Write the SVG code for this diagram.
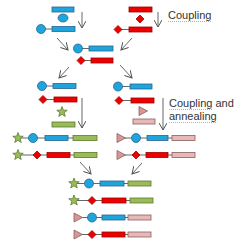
<svg xmlns="http://www.w3.org/2000/svg" width="250" height="249" viewBox="0 0 250 249">
<style>
.b{fill:#1ea6dc;stroke:#2a6490;stroke-width:0.8}
.r{fill:#ee0000;stroke:#a00000;stroke-width:0.8}
.g{fill:#9bbb59;stroke:#5b7a2e;stroke-width:0.8}
.p{fill:#e6b9b8;stroke:#8c5f5f;stroke-width:0.8}
.t{fill:#d99694;stroke:#8c5f5f;stroke-width:0.8}
.l{stroke:#555;stroke-width:0.9;fill:none}
.a{stroke:#555;stroke-width:0.9;fill:none;marker-end:url(#ah)}
.w{stroke:#e05050;stroke-width:0.6;fill:none;stroke-dasharray:1 1}
text{font-family:"Liberation Sans",Arial,sans-serif;font-size:11px;fill:#333}
</style>
<defs>
<marker id="ah" viewBox="0 0 8 8" refX="7" refY="4" markerWidth="8" markerHeight="8" markerUnits="userSpaceOnUse" orient="auto">
<path d="M0,0 L7,4 L0,8" fill="none" stroke="#555" stroke-width="1"/>
</marker>
<path id="star" d="M0,-5.5 L1.35,-1.86 L5.23,-1.7 L2.19,0.71 L3.23,4.45 L0,2.3 L-3.23,4.45 L-2.19,0.71 L-5.23,-1.7 L-1.35,-1.86 Z"/>
<path id="dia" d="M0,-4 L4,0 L0,4 L-4,0 Z"/>
<path id="tri" d="M-4,-4.5 L4.5,0 L-4,4.5 Z"/>
</defs>

<g id="connectors">
<line class="a" x1="82" y1="12" x2="82" y2="28"/>
<line class="a" x1="158" y1="12" x2="158" y2="27"/>
<line class="a" x1="57" y1="38" x2="68" y2="50"/>
<line class="a" x1="132" y1="38" x2="121" y2="50"/>
<line class="a" x1="69" y1="67" x2="59" y2="78"/>
<line class="a" x1="120" y1="65" x2="132" y2="78"/>
<line class="a" x1="82" y1="98" x2="82" y2="128"/>
<line class="a" x1="163" y1="98" x2="163" y2="130"/>
<line class="a" x1="80" y1="162" x2="91" y2="174"/>
<line class="a" x1="142" y1="163" x2="132" y2="174"/>
</g>

<g id="labels">
<text x="168" y="19">Coupling</text>
<path class="w" d="M168,21.5 h43"/>
<text x="169" y="107">Coupling and</text>
<path class="w" d="M169,109.5 h43"/>
<text x="169" y="120">annealing</text>
<path class="w" d="M169,122.5 h48"/>
</g>

<g id="top-left">
<rect class="b" x="52" y="7" width="22" height="5"/>
<ellipse class="b" cx="63" cy="18" rx="5" ry="4"/>
<line class="l" x1="45" y1="29" x2="52" y2="29"/>
<circle class="b" cx="41" cy="29" r="4.5"/>
<rect class="b" x="52" y="26.5" width="23" height="5"/>
</g>

<g id="top-right">
<rect class="r" x="129" y="7" width="23" height="5"/>
<use href="#dia" class="r" x="140" y="19"/>
<line class="l" x1="121" y1="29.5" x2="129" y2="29.5"/>
<use href="#dia" class="r" x="118" y="29.5"/>
<rect class="r" x="129" y="27" width="23" height="5"/>
</g>

<g id="middle">
<line class="l" x1="82" y1="48.5" x2="89" y2="48.5"/>
<circle class="b" cx="78" cy="48.5" r="4.5"/>
<rect class="b" x="89" y="46" width="24" height="5"/>
<line class="l" x1="84" y1="60.5" x2="91" y2="60.5"/>
<use href="#dia" class="r" x="81" y="60.5"/>
<rect class="r" x="91" y="58" width="22" height="5"/>
</g>

<g id="left-col">
<line class="l" x1="46" y1="86" x2="53" y2="86"/>
<circle class="b" cx="42" cy="86" r="4.5"/>
<rect class="b" x="53" y="83.5" width="23" height="5"/>
<line class="l" x1="46" y1="99.5" x2="54" y2="99.5"/>
<use href="#dia" class="r" x="43" y="99.5"/>
<rect class="r" x="54" y="97" width="23" height="5"/>
<use href="#star" class="g" x="62" y="112"/>
<rect class="g" x="52" y="122" width="23" height="5"/>
</g>

<g id="right-col">
<line class="l" x1="122" y1="86.5" x2="130" y2="86.5"/>
<circle class="b" cx="118" cy="86.5" r="4.5"/>
<rect class="b" x="130" y="84" width="22" height="5"/>
<line class="l" x1="122" y1="100.5" x2="131" y2="100.5"/>
<use href="#dia" class="r" x="119" y="100.5"/>
<rect class="r" x="131" y="98" width="23" height="5"/>
<use href="#tri" class="t" x="143" y="111"/>
<rect class="p" x="133" y="119" width="22" height="5"/>
</g>

<g id="left-rows">
<line class="l" x1="18" y1="138" x2="73" y2="138"/>
<use href="#star" class="g" x="18" y="138"/>
<circle class="b" cx="33" cy="138" r="4.5"/>
<rect class="b" x="45" y="135.5" width="23" height="5"/>
<rect class="g" x="73" y="135.5" width="24" height="5"/>
<line class="l" x1="18" y1="155" x2="74" y2="155"/>
<use href="#star" class="g" x="18" y="155"/>
<use href="#dia" class="r" x="37" y="155"/>
<rect class="r" x="47" y="152.5" width="23" height="5"/>
<rect class="g" x="74" y="152.5" width="23" height="5"/>
</g>

<g id="right-rows">
<line class="l" x1="121" y1="138" x2="172" y2="138"/>
<use href="#tri" class="t" x="121" y="138"/>
<circle class="b" cx="136" cy="138" r="4.5"/>
<rect class="b" x="147" y="135.5" width="21" height="5"/>
<rect class="p" x="172" y="135.5" width="23" height="5"/>
<line class="l" x1="121" y1="155" x2="172" y2="155"/>
<use href="#tri" class="t" x="121" y="155"/>
<use href="#dia" class="r" x="136" y="155"/>
<rect class="r" x="146" y="152.5" width="22" height="5"/>
<rect class="p" x="172" y="152.5" width="23" height="5"/>
</g>

<g id="bottom-rows">
<line class="l" x1="74" y1="183.5" x2="128" y2="183.5"/>
<use href="#star" class="g" x="74" y="183.5"/>
<circle class="b" cx="89" cy="183.5" r="4.5"/>
<rect class="b" x="100" y="181" width="24" height="5"/>
<rect class="g" x="128" y="181" width="23" height="5"/>
<line class="l" x1="74" y1="200.5" x2="130" y2="200.5"/>
<use href="#star" class="g" x="74" y="200.5"/>
<use href="#dia" class="r" x="92" y="200.5"/>
<rect class="r" x="102" y="198" width="24" height="5"/>
<rect class="g" x="130" y="198" width="23" height="5"/>
<line class="l" x1="78" y1="217.5" x2="128" y2="217.5"/>
<use href="#tri" class="t" x="78" y="217.5"/>
<circle class="b" cx="92" cy="217.5" r="4.5"/>
<rect class="b" x="102" y="215" width="23" height="5"/>
<rect class="p" x="128" y="215" width="23" height="5"/>
<line class="l" x1="78" y1="234.5" x2="128" y2="234.5"/>
<use href="#tri" class="t" x="78" y="234.5"/>
<use href="#dia" class="r" x="92" y="234.5"/>
<rect class="r" x="102" y="232" width="23" height="5"/>
<rect class="p" x="128" y="232" width="23" height="5"/>
</g>
</svg>
